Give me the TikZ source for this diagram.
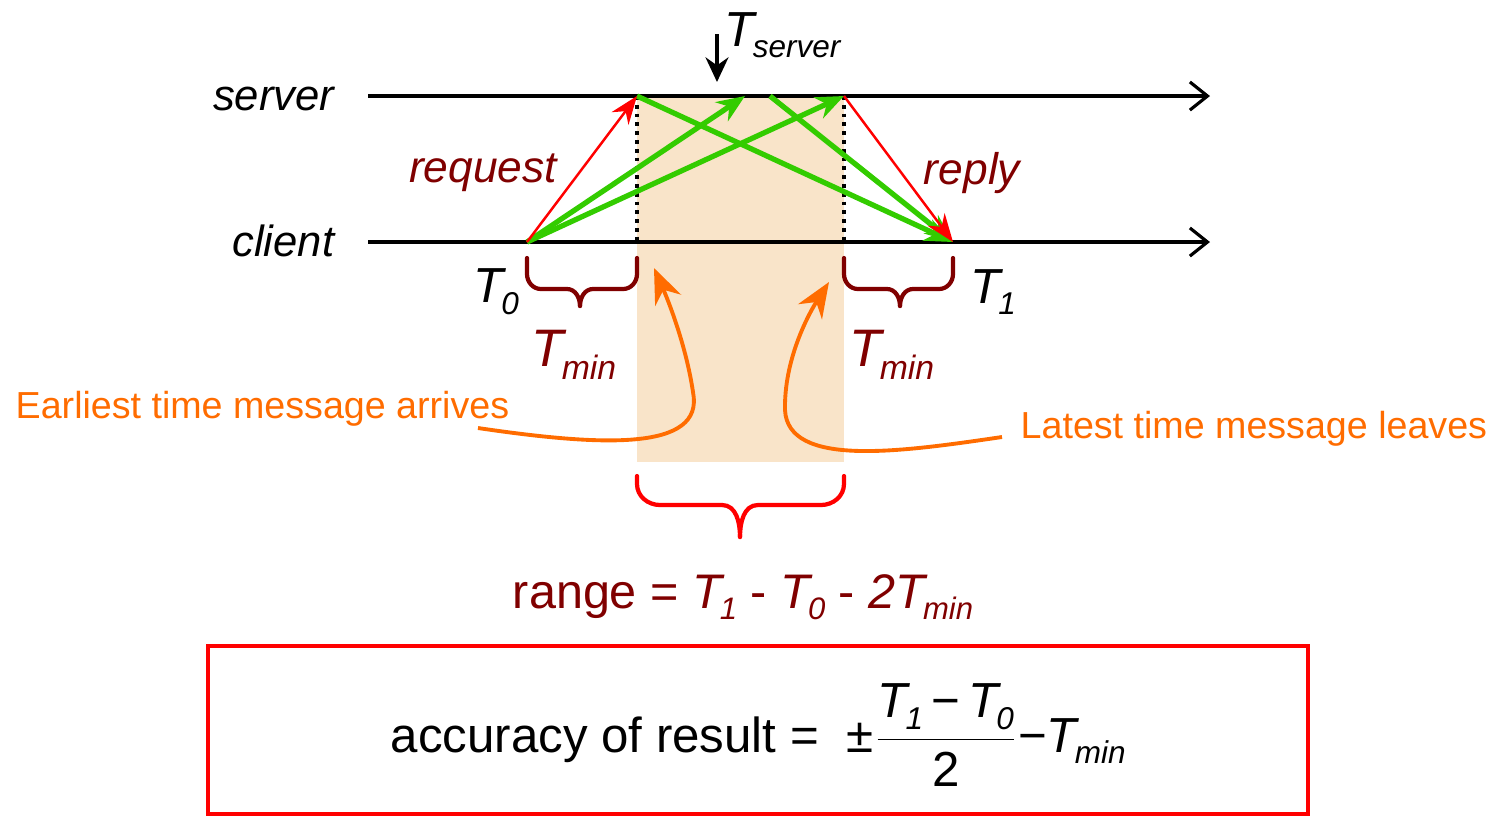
\documentclass[tikz,border=0pt]{standalone}
\usepackage{fontspec}
\usepackage{graphicx}
\setmainfont{Liberation Sans}
\usetikzlibrary{arrows.meta}
\definecolor{dred}{RGB}{128,0,0}
\definecolor{mygreen}{RGB}{51,204,0}
\definecolor{myorange}{RGB}{255,108,0}
\definecolor{peach}{RGB}{249,228,201}
\newcommand{\Tsb}[1]{\textit{T}\kern-0.1em\raisebox{-0.45ex}{\scalebox{0.64}{\itshape #1}}}
\begin{document}
\begin{tikzpicture}[x=0.01cm,y=-0.01cm,
  timeline/.style={line width=0.9pt,-{Straight Barb[length=5pt,width=8pt,line width=0.9pt]}},
  req/.style={red,line width=0.7pt,-{Stealth[length=8pt,width=6pt]}},
  msg/.style={mygreen,line width=1.5pt,-{Stealth[length=8pt,width=6.5pt]}},
  bound/.style={line width=1.2pt,dash pattern=on 1.1pt off 1.4pt},
  dbrace/.style={dred,line width=1.2pt,line cap=round},
  rbrace/.style={red,line width=1.2pt,line cap=round},
  note/.style={myorange,line width=1.1pt,-{Stealth[length=10pt,width=8pt]}},
  lbl/.style={inner sep=0pt},
  big/.style={font=\fontsize{14}{17}\selectfont},
]
\useasboundingbox (0,0) rectangle (1499,817);
% shaded range
\fill[peach] (637,96) rectangle (844,462);
% time lines
\coordinate (sl) at (368,96); \coordinate (sr) at (1210,96);
\coordinate (cl) at (368,242); \coordinate (cr) at (1210,242);
\draw[timeline] (sl) -- (sr);
\draw[timeline] (cl) -- (cr);
\node[lbl,anchor=base east,font=\itshape\fontsize{12.4}{15}\selectfont] (server) at (335,110) {server};
\node[lbl,anchor=base east,font=\itshape\fontsize{12.4}{15}\selectfont] (client) at (335,256) {client};
% events
\coordinate (c0) at (527,242);
\coordinate (c1) at (953,242);
\coordinate (s0) at (637,96);
\coordinate (sa) at (745,96);
\coordinate (sb) at (770,96);
\coordinate (s1) at (844,96);
\coordinate (d0) at (637,242);
\coordinate (d1) at (844,242);
\draw[bound] (s0) -- (d0);
\draw[bound] (s1) -- (d1);
% messages
\draw[msg] (c0) -- (sa);
\draw[msg] (c0) -- (s1);
\draw[msg] (s0) -- (c1);
\draw[msg] (sb) -- (c1);
\draw[req] (c0) -- (s0);
\draw[req] (s1) -- (c1);
\node[lbl,dred,font=\itshape\fontsize{12.6}{15}\selectfont] (request) at (483,173) {request};
\node[lbl,dred,font=\itshape\fontsize{12.6}{15}\selectfont] (reply) at (972,173) {reply};
% T_server
\coordinate (ta) at (717,34);
\coordinate (tb) at (717,82);
\draw[line width=1.1pt,-{Stealth[length=7pt,width=6.5pt]}] (ta) -- (tb);
\node[lbl,anchor=base west,big] (tserver) at (724,46) {\Tsb{server}};
% T0, T1
\node[lbl,big] (t0) at (496,292) {\Tsb{0}};
\node[lbl,big] (t1) at (993,292) {\Tsb{1}};
% braces
\draw[dbrace] (527,258) -- (527,274) to[out=-90,in=180] (541,289) -- (567,289) to[out=0,in=90] (580,306);
\draw[dbrace] (580,306) to[out=90,in=180] (593,289) -- (623,289) to[out=0,in=-90] (637,274) -- (637,258);
\draw[dbrace] (844,258) -- (844,274) to[out=-90,in=180] (858,289) -- (887,289) to[out=0,in=90] (900,306);
\draw[dbrace] (900,306) to[out=90,in=180] (913,289) -- (939,289) to[out=0,in=-90] (953,274) -- (953,258);
\node[lbl,dred,font=\fontsize{15}{18}\selectfont] (tmin0) at (574,355) {\Tsb{min}};
\node[lbl,dred,font=\fontsize{15}{18}\selectfont] (tmin1) at (892,355) {\Tsb{min}};
% orange notes
\node[lbl,myorange,anchor=base west,font=\fontsize{10.7}{13}\selectfont] (early) at (15,418) {Earliest time message arrives};
\node[lbl,myorange,anchor=base west,font=\fontsize{10.7}{13}\selectfont] (late) at (1020,438) {Latest time message leaves};
\coordinate (e0) at (478,428);
\coordinate (e1) at (654,268);
\coordinate (l0) at (1002,437);
\coordinate (l1) at (829,282);
\draw[note] (e0) .. controls (600,446) and (705,452) .. (693,392) .. controls (686,345) and (668,300) .. (e1);
\draw[note] (l0) .. controls (900,452) and (788,468) .. (785,410) .. controls (784,360) and (808,315) .. (l1);
% range brace
\draw[rbrace] (637,476) -- (637,484) to[out=-90,in=180] (660,505) -- (722,505) to[out=0,in=90] (740,537);
\draw[rbrace] (740,537) to[out=90,in=180] (758,505) -- (821,505) to[out=0,in=-90] (844,484) -- (844,476);
\node[lbl,dred,font=\fontsize{13.8}{17}\selectfont] (range) at (743,597) {range = \Tsb{1} - \Tsb{0} - \textit{2}\Tsb{min}};
% result box
\draw[red,line width=1.1pt] (208,646) rectangle (1308,814);
\node[lbl,anchor=base west,big] (acc) at (390,752) {accuracy of result =\ \ ±$\displaystyle\frac{\mbox{\Tsb{1}\,−\,\Tsb{0}}}{\mbox{2}}$−\Tsb{min}};
\end{tikzpicture}
\end{document}
